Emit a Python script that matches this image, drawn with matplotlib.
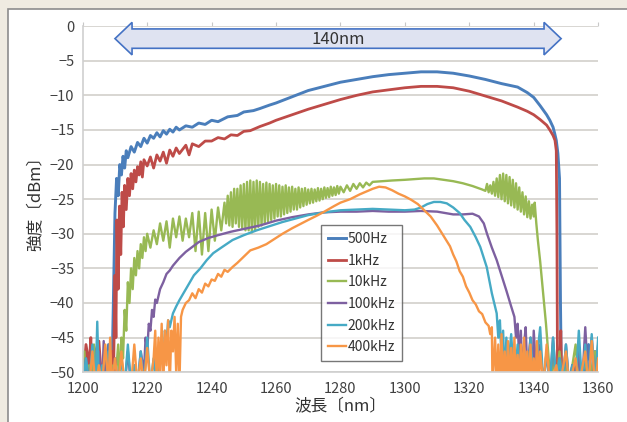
import numpy as np
import matplotlib
matplotlib.use("Agg")
import matplotlib.pyplot as plt
from matplotlib.patches import Rectangle, Polygon

plt.rcParams['font.family'] = ['Noto Sans CJK JP', 'DejaVu Sans']

# wavelength (nm), power (dBm) pairs
s500 = [(1200, -51), (1201, -47), (1202, -52), (1203, -49), (1204, -52), (1205, -48), (1206, -52),
        (1207, -50), (1208, -46), (1209, -52), (1209.5, -40), (1210, -27), (1210.5, -22), (1211, -24.5),
        (1211.5, -20), (1212, -21.5), (1212.5, -18.8), (1213, -20.5), (1213.5, -18), (1214, -19),
        (1215, -17.4), (1216, -18.2), (1217, -16.8), (1218, -17.4), (1219, -16.2), (1220, -16.9),
        (1221, -15.8), (1222, -16.2), (1223, -15.4), (1224, -16), (1225, -15.1), (1226, -15.6),
        (1227, -14.9), (1228, -15.3), (1229, -14.6), (1230, -15), (1232, -14.4), (1234, -14.6),
        (1236, -14), (1238, -14.2), (1240, -13.6), (1242, -13.8), (1245, -13.1), (1248, -12.9),
        (1250, -12.4), (1253, -12.2), (1255, -11.9), (1258, -11.4), (1260, -11.1), (1265, -10.2),
        (1270, -9.3), (1275, -8.7), (1280, -8.1), (1285, -7.7), (1290, -7.3), (1295, -7.0),
        (1300, -6.8), (1305, -6.6), (1310, -6.6), (1315, -6.8), (1320, -7.2), (1325, -7.7),
        (1330, -8.3), (1335, -8.8), (1338, -9.6), (1340, -10.3), (1342, -11.5), (1344, -12.8),
        (1345, -13.6), (1346, -14.6), (1346.5, -15.5), (1347, -16.5), (1347.5, -18.4), (1348, -22),
        (1348.3, -40), (1348.6, -52), (1350, -48), (1351, -52), (1352, -49), (1353, -52), (1354, -47),
        (1355, -52), (1356, -50), (1357, -46), (1358, -52), (1359, -47), (1360, -51)]

s1k = [(1200, -52), (1201, -46), (1202, -49), (1202.5, -45), (1203, -52), (1204, -47), (1205, -45.5),
       (1206, -52), (1207, -48), (1208, -51), (1209, -47), (1209.5, -52), (1210, -36), (1210.3, -45),
       (1210.6, -28), (1211, -38), (1211.4, -26), (1211.8, -33), (1212.2, -24), (1212.6, -29),
       (1213, -23), (1213.5, -26.5), (1214, -22), (1214.5, -24.5), (1215, -21.3), (1215.5, -23.5),
       (1216, -20.8), (1216.5, -22.5), (1217, -20.3), (1217.5, -21.5), (1218, -19.6), (1218.5, -21.8),
       (1219, -19.3), (1220, -20.2), (1221, -18.9), (1222, -20.5), (1223, -18.6), (1224, -19.5),
       (1225, -18.2), (1226, -19.8), (1227, -17.9), (1228, -18.8), (1229, -17.6), (1230, -18.4),
       (1232, -17.2), (1233, -18.6), (1234, -17), (1236, -17.4), (1238, -16.6), (1240, -16.6),
       (1242, -16.1), (1244, -16.3), (1246, -15.7), (1248, -15.8), (1250, -15.2), (1252, -15.1),
       (1255, -14.5), (1258, -14), (1260, -13.6), (1265, -12.8), (1270, -12), (1275, -11.3),
       (1280, -10.6), (1285, -10), (1290, -9.5), (1295, -9.2), (1300, -8.9), (1305, -8.7),
       (1310, -8.7), (1315, -8.9), (1320, -9.4), (1325, -10.1), (1330, -10.8), (1335, -11.7),
       (1338, -12.3), (1340, -12.8), (1342, -13.5), (1344, -14.3), (1345, -15), (1346, -15.8),
       (1346.6, -16.5), (1347, -18), (1347.2, -30), (1347.4, -52), (1348, -50), (1348.4, -44),
       (1348.7, -52), (1350, -48), (1351, -52), (1353, -49), (1354, -52), (1356, -50), (1357, -52),
       (1359, -49), (1360, -52)]

s10k = [(1200, -52), (1200.5, -47), (1201, -52), (1202, -49), (1203, -52), (1203.5, -46), (1204, -52),
        (1205, -50), (1206, -52), (1207, -47), (1208, -52), (1209, -49), (1210, -52), (1211, -46),
        (1211.5, -52), (1212, -45), (1212.5, -48), (1213, -41), (1213.5, -44), (1214, -37),
        (1214.5, -40), (1215, -35), (1215.5, -38), (1216, -33.5), (1216.5, -36), (1217, -32.5),
        (1217.5, -35), (1218, -31.5), (1218.5, -33.5), (1219, -30.5), (1219.5, -32.5), (1220, -30),
        (1221, -32), (1222, -29.5), (1223, -31.5), (1224, -28.5), (1225, -31), (1226, -28.2),
        (1227, -32), (1228, -27.8), (1229, -30.5), (1230, -27.5), (1231, -31), (1232, -27.8),
        (1233, -30.5), (1234, -27), (1235, -32.5), (1236, -26.8), (1237, -33), (1238, -27),
        (1239, -32.5), (1240, -26.5), (1241, -31), (1242, -26.2), (1243, -29.5), (1244, -25.5),
        (1244.5, -28.5), (1245, -24.5), (1245.5, -28.8), (1246, -24), (1246.5, -29), (1247, -23.5),
        (1247.5, -28.5), (1248, -23.5), (1248.5, -29), (1249, -23), (1249.5, -29.2), (1250, -22.8),
        (1250.5, -29.5), (1251, -22.5), (1251.5, -29.5), (1252, -22.3), (1252.5, -29.8), (1253, -22.5),
        (1253.5, -29.5), (1254, -22.3), (1254.5, -29), (1255, -22.5), (1255.5, -28.8), (1256, -22.8),
        (1256.5, -28.5), (1257, -22.6), (1257.5, -28.2), (1258, -22.8), (1258.5, -28), (1259, -23),
        (1259.5, -27.8), (1260, -22.8), (1260.5, -27.5), (1261, -23), (1261.5, -27.5), (1262, -23.2),
        (1262.5, -27.2), (1263, -23), (1263.5, -27), (1264, -23.3), (1264.5, -26.8), (1265, -23.2),
        (1265.5, -26.5), (1266, -23.5), (1266.5, -26.5), (1267, -23.3), (1267.5, -26.2), (1268, -23.5),
        (1268.5, -26), (1269, -23.4), (1269.5, -25.8), (1270, -23.6), (1270.5, -25.6), (1271, -23.5),
        (1271.5, -25.5), (1272, -23.6), (1272.5, -25.3), (1273, -23.4), (1273.5, -25.2), (1274, -23.5),
        (1274.5, -25), (1275, -23.3), (1275.5, -24.8), (1276, -23.4), (1276.5, -24.7), (1277, -23.2),
        (1277.5, -24.5), (1278, -23.3), (1278.5, -24.4), (1279, -23.1), (1279.5, -24.2), (1280, -23.2),
        (1281, -24), (1282, -23), (1283, -23.8), (1284, -22.8), (1285, -23.5), (1286, -22.7),
        (1287, -23.3), (1288, -22.6), (1289, -23), (1290, -22.5), (1293, -22.4), (1296, -22.3),
        (1300, -22.2), (1303, -22.1), (1306, -22), (1309, -22), (1312, -22.2), (1315, -22.4),
        (1318, -22.7), (1321, -23.1), (1324, -23.6), (1325, -23.8), (1325.5, -22.8), (1326, -24),
        (1326.5, -23), (1327, -24.2), (1327.5, -22.5), (1328, -24.5), (1328.5, -22), (1329, -24.7),
        (1329.5, -21.5), (1330, -25), (1330.5, -21.3), (1331, -25.3), (1331.5, -21.5), (1332, -25.6),
        (1332.5, -21.8), (1333, -25.9), (1333.5, -22.2), (1334, -26.2), (1334.5, -22.7), (1335, -26.5),
        (1335.5, -23.3), (1336, -26.8), (1336.5, -24), (1337, -27.2), (1337.5, -24.6), (1338, -27.6),
        (1338.5, -25.3), (1339, -27.8), (1339.5, -25.8), (1340, -27.5), (1340.3, -25.5),
        (1340.8, -28.5), (1341.3, -31), (1342, -34), (1342.6, -37), (1343.2, -40), (1343.8, -43),
        (1344.3, -46), (1344.8, -49), (1345.1, -52), (1346, -48), (1347, -52), (1348, -47), (1349, -52),
        (1350, -49), (1351, -52), (1353, -46), (1354, -52), (1356, -48), (1357, -52), (1359, -47),
        (1360, -52)]

s100k = [(1200, -52), (1201, -48), (1202, -52), (1203, -50), (1204, -52), (1205, -47), (1206, -52),
         (1206.5, -45.5), (1207, -52), (1208, -49), (1209, -52), (1210, -48), (1211, -52), (1212, -50),
         (1213, -52), (1214, -47), (1215, -52), (1216, -49), (1217, -52), (1218, -47), (1219, -50),
         (1219.5, -45), (1220, -47), (1220.5, -43), (1221, -44), (1221.5, -41), (1222, -42),
         (1222.5, -39.5), (1223, -40), (1224, -38), (1225, -37), (1226, -35.8), (1227, -35.3),
         (1228, -34.6), (1230, -33.5), (1232, -32.6), (1234, -31.9), (1236, -31.2), (1239, -30.6),
         (1242, -30.2), (1246, -29.7), (1250, -29.3), (1255, -28.8), (1260, -28.1), (1265, -27.6),
         (1270, -27.2), (1275, -26.9), (1280, -26.8), (1285, -26.8), (1290, -26.7), (1295, -26.8),
         (1300, -26.8), (1305, -26.7), (1310, -26.8), (1315, -27.2), (1318, -27.2), (1321, -27.1),
         (1323, -27.5), (1324.5, -28.5), (1325.5, -30), (1327, -32), (1328.5, -33.8), (1330, -36),
         (1331.5, -38.2), (1333, -40.5), (1334, -42), (1334.5, -45), (1335, -43), (1335.5, -48),
         (1336, -44), (1336.5, -52), (1337, -46), (1337.5, -43.5), (1338, -50), (1339, -45),
         (1339.5, -52), (1340, -44), (1341, -52), (1342, -46), (1343, -52), (1344, -47), (1345, -52),
         (1346, -45), (1347, -52), (1348, -48), (1349, -52), (1350, -46), (1351, -52), (1352, -49),
         (1353, -52), (1354, -47), (1355, -52), (1356, -43.5), (1357, -52), (1358, -45), (1359, -52),
         (1360, -46)]

s200k = [(1200, -52), (1201, -48), (1202, -52), (1203, -46), (1204, -52), (1204.5, -42.7), (1205, -52),
         (1206, -49), (1207, -52), (1208, -47), (1209, -52), (1210, -50), (1211, -52), (1212, -48),
         (1213, -52), (1214, -46), (1215, -52), (1216, -49), (1217, -52), (1218, -47), (1219, -52),
         (1220, -45), (1221, -52), (1222, -48), (1223, -52), (1224, -46), (1225, -49), (1225.5, -44),
         (1226, -46), (1226.5, -42.5), (1227, -43.5), (1228, -41.5), (1229, -40.5), (1230, -39.6),
         (1231, -38.8), (1232, -38), (1233, -37.2), (1234.5, -36), (1236.5, -35), (1238.5, -33.8),
         (1240.5, -32.8), (1243, -32), (1246.5, -30.9), (1250, -30.2), (1254, -29.5), (1258, -28.9),
         (1262, -28.3), (1266, -27.8), (1270, -27.3), (1275, -26.9), (1280, -26.6), (1285, -26.5),
         (1290, -26.4), (1295, -26.5), (1300, -26.6), (1303, -26.5), (1305, -26.2), (1307, -25.7),
         (1309, -25.4), (1311, -25.4), (1313, -25.6), (1315, -26.2), (1317, -27), (1318.5, -28),
         (1320.3, -29), (1322, -30.5), (1323.4, -31.9), (1325.4, -34.8), (1327, -38.6), (1328.5, -41.5),
         (1329, -45), (1329.5, -42.5), (1330, -48), (1330.5, -44), (1331, -52), (1331.5, -45),
         (1332, -50), (1333, -44.5), (1334, -52), (1335, -46), (1336, -52), (1337, -47), (1338, -52),
         (1339, -45), (1340, -52), (1341, -48), (1342, -43.5), (1343, -52), (1344, -47), (1345, -52),
         (1346, -45), (1347, -52), (1348, -48), (1349, -52), (1350, -46), (1351, -52), (1352, -49),
         (1353, -52), (1354, -44), (1355, -52), (1356, -46), (1357, -52), (1358, -44.5), (1359, -52),
         (1360, -45)]

s400k = [(1200, -52), (1201, -50), (1202, -52), (1203, -47), (1204, -52), (1205, -49), (1206, -52),
         (1207, -46), (1208, -52), (1208.5, -45), (1209, -52), (1210, -48), (1211, -52), (1212, -47),
         (1213, -52), (1214, -50), (1215, -52), (1216, -46), (1217, -52), (1218, -48), (1219, -52),
         (1220, -46.5), (1221, -52), (1222, -48), (1222.5, -44), (1223, -52), (1223.5, -45),
         (1224, -50), (1224.5, -43), (1225, -52), (1225.5, -44), (1226, -49), (1226.5, -42.5),
         (1227, -52), (1227.5, -44), (1228, -47), (1228.5, -42), (1229, -50), (1229.5, -43),
         (1230, -52), (1230.5, -42), (1231, -41), (1232, -40), (1233, -39.6), (1234, -38.6),
         (1235, -39.3), (1236, -38), (1237, -38.5), (1238, -37.2), (1239, -37.6), (1240, -36.6),
         (1241, -36.8), (1242, -35.8), (1243, -36.2), (1244, -35.2), (1245, -35.5), (1246.5, -34.8),
         (1248, -34.2), (1250, -33.3), (1252, -32.4), (1254.5, -32), (1257, -31.5), (1260, -30.6),
         (1262, -30), (1265, -29.2), (1267.5, -28.6), (1270, -28), (1272.6, -27.4), (1275, -26.8),
         (1278, -26), (1280, -25.5), (1283, -25), (1286, -24.3), (1288, -23.9), (1290, -23.5),
         (1292, -23.2), (1294, -23.3), (1296, -23.7), (1298, -24.2), (1300, -24.6), (1302, -25.1),
         (1304, -25.7), (1306, -26.6), (1308, -27.5), (1310, -28.8), (1312, -30.3), (1314, -31.8),
         (1315, -33), (1316, -34), (1317, -35.4), (1318, -36.2), (1319, -37.6), (1320, -38.5),
         (1321, -39.6), (1322, -40.2), (1323, -41.2), (1324, -41.6), (1325, -42.8), (1326, -43.3),
         (1326.5, -44.5), (1327, -43.5), (1327.2, -52), (1328, -45), (1328.5, -52), (1329, -46),
         (1329.5, -52), (1330, -44.5), (1330.5, -52), (1331, -47), (1331.5, -52), (1332, -45.5),
         (1332.5, -52), (1333, -46.5), (1333.5, -52), (1334, -45), (1334.5, -52), (1335, -47.5),
         (1335.5, -52), (1336, -46), (1336.5, -52), (1337, -45), (1337.5, -52), (1338, -47),
         (1338.5, -52), (1339, -46), (1339.5, -52), (1340, -48), (1340.5, -52), (1341, -45.5),
         (1341.5, -52), (1342, -47), (1343, -52), (1344, -46), (1345, -52), (1347, -49), (1348, -52),
         (1350, -47), (1351, -52), (1353, -48), (1354, -52), (1356, -47), (1357, -52), (1358, -45.5),
         (1359, -52), (1360, -48)]

labels = ["500Hz", "1kHz", "10kHz", "100kHz", "200kHz", "400kHz"]
colors = ["#4a7ebb", "#be4b48", "#98b954", "#7d60a0", "#46aac5", "#f79646"]
widths = [2.1, 2.0, 1.7, 1.7, 1.7, 1.7]
series = [s500, s1k, s10k, s100k, s200k, s400k]

# 140nm span arrow
span_start, span_end = 1210, 1348.5
span_text = "140nm"

fig = plt.figure(figsize=(6.27, 4.22), dpi=100, facecolor="#efebe1")
fig.patches.append(Rectangle((8 / 627, -0.05), 1.0, 413 / 422 + 0.05, transform=fig.transFigure,
                             facecolor="white", edgecolor="#8c8c8c", lw=1.2, zorder=-10))
ax = fig.add_axes([0.132, 0.118, 0.822, 0.820])
ax.set_facecolor("white")

for s, lab, c, w in zip(series, labels, colors, widths):
    x, y = zip(*s)
    ax.plot(x, y, color=c, lw=w, label=lab, solid_joinstyle="round")

ax.set_xlim(1200, 1360)
ax.set_ylim(-50, 0)
ax.set_xticks(np.arange(1200, 1361, 20))
ax.set_yticks(np.arange(-50, 1, 5))
ax.yaxis.grid(True, color="#d6d3cf", lw=1.3)
ax.set_axisbelow(True)
for sp in ["top", "right"]:
    ax.spines[sp].set_visible(False)
for sp in ["left", "bottom"]:
    ax.spines[sp].set_color("#cfcfcf")
    ax.spines[sp].set_linewidth(1.2)
ax.tick_params(axis="x", bottom=False, top=True, direction="out", length=3, color="#c8c8c8",
               labelsize=10.5, labelcolor="#404040", pad=4)
ax.tick_params(axis="y", length=0, labelsize=10.5, labelcolor="#404040", pad=6)

ax.set_xlabel("波長〔nm〕", fontsize=12, color="#333333", labelpad=2)
ax.set_ylabel("強度〔dBm〕", fontsize=12, color="#333333", labelpad=4)

# double-headed block arrow
yc, shaft, head, hl = -1.8, 1.4, 2.35, 5.3
verts = [(span_start, yc), (span_start + hl, yc + head), (span_start + hl, yc + shaft),
         (span_end - hl, yc + shaft), (span_end - hl, yc + head), (span_end, yc),
         (span_end - hl, yc - head), (span_end - hl, yc - shaft), (span_start + hl, yc - shaft),
         (span_start + hl, yc - head)]
ax.add_patch(Polygon(verts, closed=True, facecolor="#dfe3f1", edgecolor="#4472c4", lw=1.2,
                     clip_on=False, zorder=5))
ax.text((span_start + span_end) / 2, yc - 0.1, span_text, ha="center", va="center", fontsize=12,
        color="#333333", zorder=6)

leg = ax.legend(loc="upper left", bbox_to_anchor=(0.462, 0.425), borderaxespad=0, fontsize=10,
                frameon=True, fancybox=False, edgecolor="#555555", handlelength=1.3,
                handletextpad=0.1, labelspacing=0.55, borderpad=0.5)
leg.get_frame().set_linewidth(1.0)
for t in leg.get_texts():
    t.set_color("#333333")

fig.savefig("out.png", dpi=100, facecolor=fig.get_facecolor())
